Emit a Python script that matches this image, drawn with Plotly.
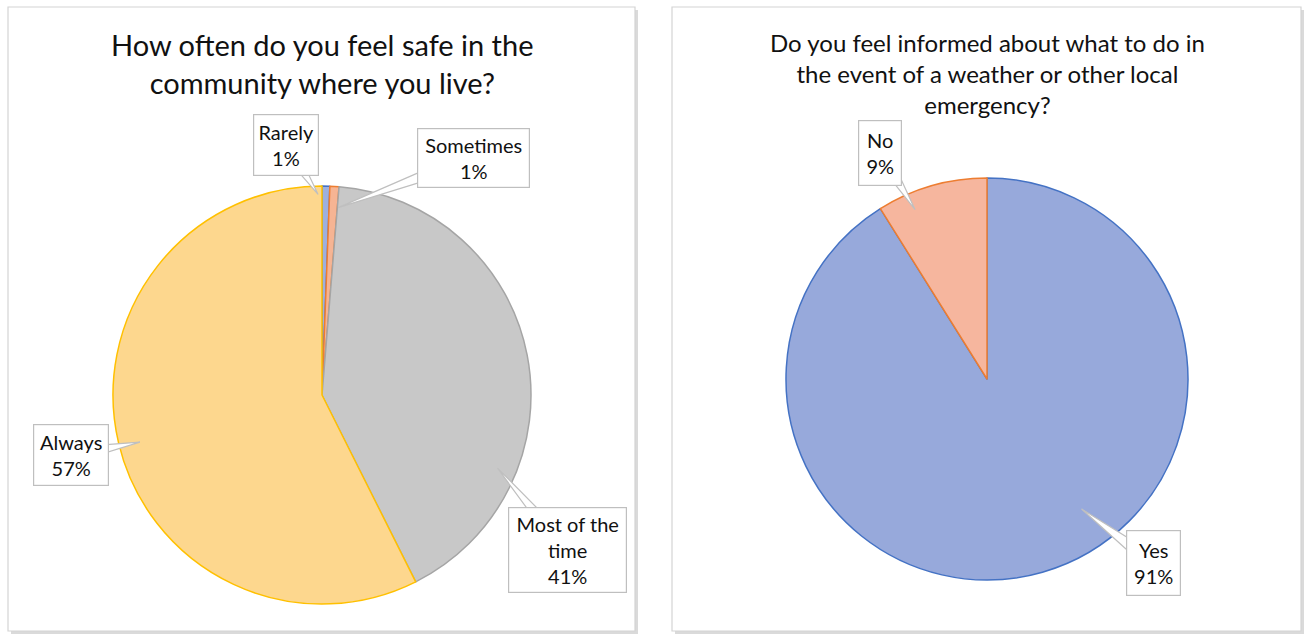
import math
import plotly.graph_objects as go

# ---- data ----
safety_labels = ["Rarely", "Sometimes", "Most of the time", "Always"]
safety_values = [0.6, 0.7, 41.3, 57.4]
informed_labels = ["Yes", "No"]
informed_values = [91.1, 8.9]

safety_title = "How often do you feel safe in the<br>community where you live?"
informed_title = "Do you feel informed about what to do in<br>the event of a weather or other local<br>emergency?"

W, H = 1307, 636
FONT = "Lato, 'Open Sans', sans-serif"

safety_fill = ["#9DB0DF", "#F6B493", "#C8C8C8", "#FDD78E"]
safety_edge = ["#4472C4", "#ED7D31", "#A5A5A5", "#FFC000"]
informed_fill = ["#97A9DB", "#F6B69E"]
informed_edge = ["#4472C4", "#ED7D31"]

# pie geometry (pixels): center x, center y, radius
pies = [
    dict(cx=322, cy=395, r=209),
    dict(cx=987, cy=379, r=201),
]

# callout styling per slice: display text, angle shift (deg), radial fraction,
# box offset (px) from tip, box size (px)
safety_callouts = [
    dict(name="Rarely", dang=-2.2, rf=0.96, ax=-32, ay=-49, w=64, h=60),
    dict(name="Sometimes", dang=1.5, rf=0.90, ax=135, ay=-50, w=111, h=58),
    dict(name="Most of the<br>time", dang=33.6, rf=0.91, ax=70, ay=82, w=117, h=84),
    dict(name="Always", dang=-1.2, rf=0.90, ax=-69, ay=13, w=74, h=60),
]
informed_callouts = [
    dict(name="Yes", dang=-20, rf=0.80, ax=72, ay=54, w=53, h=64),
    dict(name="No", dang=-7, rf=0.915, ax=-35, ay=-57, w=42, h=64),
]


def px2paper(x, y):
    return x / W, 1 - y / H


fig = go.Figure()

shapes = []
annotations = []

# panels
for (x0, y0, x1, y1) in [(8, 7, 635, 631), (672, 7, 1301, 631)]:
    sx0, sy0 = px2paper(x0 + 3, y0 + 3)
    sx1, sy1 = px2paper(x1 + 3, y1 + 3)
    shapes.append(dict(type="rect", xref="paper", yref="paper", x0=sx0, y0=sy1, x1=sx1, y1=sy0,
                       fillcolor="#DADADA", line=dict(width=0), layer="below"))
    px0, py0 = px2paper(x0, y0)
    px1, py1 = px2paper(x1, y1)
    shapes.append(dict(type="rect", xref="paper", yref="paper", x0=px0, y0=py1, x1=px1, y1=py0,
                       fillcolor="white", line=dict(color="#D4D4D4", width=1.2), layer="below"))

for idx, (labels, values, fills, edges, callouts, title, tsize, tcy) in enumerate([
    (safety_labels, safety_values, safety_fill, safety_edge, safety_callouts, safety_title, 29, 63),
    (informed_labels, informed_values, informed_fill, informed_edge, informed_callouts, informed_title, 24, 73),
]):
    g = pies[idx]
    dx0, dy1 = px2paper(g["cx"] - g["r"], g["cy"] + g["r"])
    dx1, dy0 = px2paper(g["cx"] + g["r"], g["cy"] - g["r"])
    fig.add_trace(go.Pie(
        labels=labels, values=values, sort=False, direction="clockwise", rotation=0,
        marker=dict(colors=fills, line=dict(color=edges, width=1.5)),
        textinfo="none", showlegend=False, hole=0,
        domain=dict(x=[dx0, dx1], y=[dy1, dy0]),
    ))
    # title
    tx, ty = px2paper(g["cx"], tcy)
    annotations.append(dict(text=title, x=tx, y=ty, xref="paper", yref="paper", showarrow=False,
                            xanchor="center", yanchor="middle",
                            font=dict(family=FONT, size=tsize, color="#111111")))
    total = sum(values)
    cum = 0.0
    for v, c in zip(values, callouts):
        mid = (cum + v / 2) / total * 360.0
        cum += v
        th = math.radians(mid + c["dang"])
        tipx = g["cx"] + c["rf"] * g["r"] * math.sin(th)
        tipy = g["cy"] - c["rf"] * g["r"] * math.cos(th)
        bx, by = tipx + c["ax"], tipy + c["ay"]
        # wedge pointer
        L = math.hypot(c["ax"], c["ay"])
        nx, ny = -c["ay"] / L, c["ax"] / L
        hw = 8
        pts = [(bx + nx * hw, by + ny * hw), (tipx, tipy), (bx - nx * hw, by - ny * hw)]
        path = "M " + " L ".join(f"{px2paper(px, py)[0]:.5f},{px2paper(px, py)[1]:.5f}" for px, py in pts) + " Z"
        shapes.append(dict(type="path", xref="paper", yref="paper", path=path,
                           fillcolor="white", line=dict(color="#BFBFBF", width=1.2), layer="above"))
        pct = round(v / total * 100)
        bpx, bpy = px2paper(bx, by)
        annotations.append(dict(
            text=f"{c['name']}<br>{pct}%", x=bpx, y=bpy, xref="paper", yref="paper",
            showarrow=False, xanchor="center", yanchor="middle",
            width=c["w"], height=c["h"], bgcolor="white", bordercolor="#BFBFBF", borderwidth=1.2,
            borderpad=0, align="center",
            font=dict(family=FONT, size=20, color="#111111")))

fig.update_layout(
    width=W, height=H, margin=dict(l=0, r=0, t=0, b=0),
    paper_bgcolor="white", plot_bgcolor="white",
    shapes=shapes, annotations=annotations,
)

fig.write_html("out.html", config={"displayModeBar": False},
               post_script="document.body.style.margin='0px';document.body.style.overflow='hidden';")
